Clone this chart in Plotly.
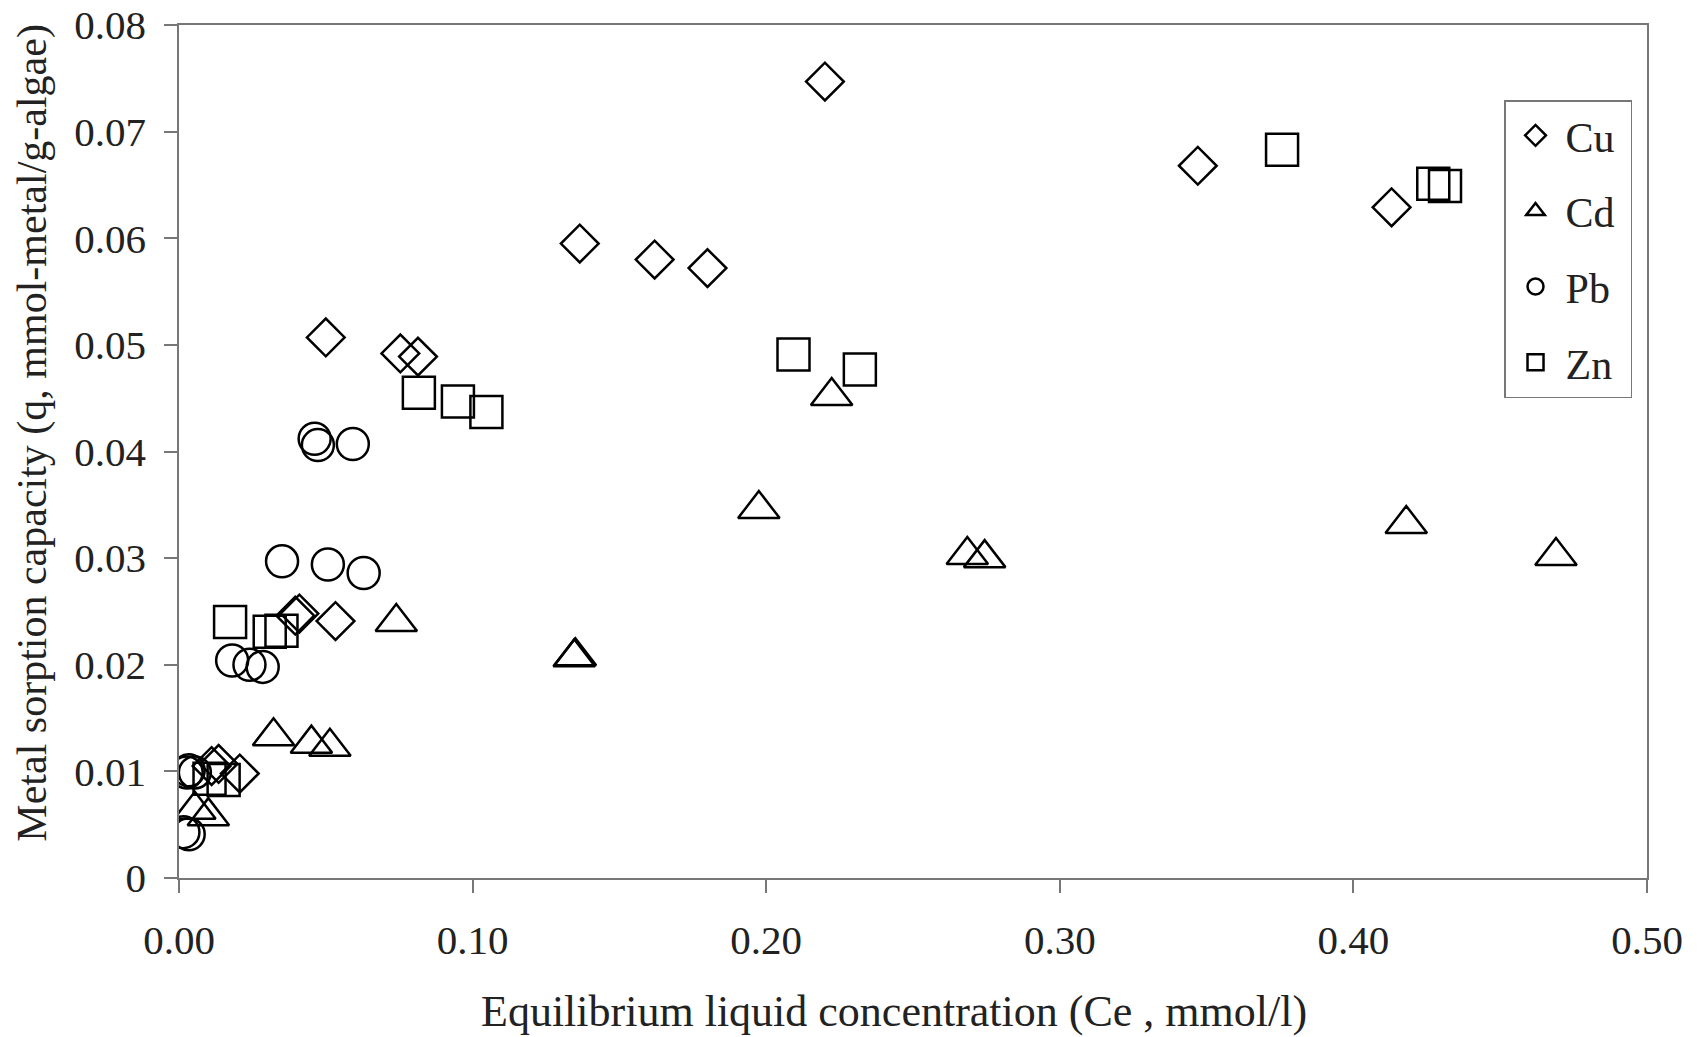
import plotly.graph_objects as go

# Equilibrium liquid concentration (Ce, mmol/l) and sorption capacity (q)
cu_x = [0.220, 0.347, 0.413, 0.1365, 0.162, 0.180, 0.050, 0.0754, 0.0814,
        0.0396, 0.0410, 0.0533, 0.0111, 0.0135, 0.0207]
cu_y = [0.0747, 0.0668, 0.0629, 0.0595, 0.0580, 0.0572, 0.0507, 0.0492, 0.0489,
        0.0246, 0.0248, 0.0241, 0.0105, 0.0107, 0.0098]

cd_x = [0.2223, 0.1975, 0.418, 0.469, 0.2685, 0.2744, 0.1346, 0.1350, 0.074,
        0.0322, 0.0451, 0.0514, 0.0054, 0.0100]
cd_y = [0.0452, 0.0346, 0.0332, 0.0302, 0.0303, 0.0300, 0.0207, 0.0208, 0.0240,
        0.0133, 0.0126, 0.0123, 0.0064, 0.0058]

pb_x = [0.0462, 0.0473, 0.0592, 0.0351, 0.0507, 0.0629, 0.0181, 0.0240, 0.0285,
        0.0026, 0.0033, 0.0054, 0.0015, 0.0033]
pb_y = [0.0412, 0.0406, 0.0407, 0.0297, 0.0294, 0.0286, 0.0204, 0.0200, 0.0198,
        0.0099, 0.0101, 0.0099, 0.0043, 0.0041]

zn_x = [0.3757, 0.4272, 0.4312, 0.2093, 0.2319, 0.0817, 0.0950, 0.1047, 0.0174,
        0.0309, 0.0349, 0.0104, 0.0152]
zn_y = [0.0683, 0.0651, 0.0649, 0.0491, 0.0477, 0.0455, 0.0447, 0.0437, 0.0240,
        0.0231, 0.0232, 0.0093, 0.0092]

x_ticks = [0.0, 0.1, 0.2, 0.3, 0.4, 0.5]
x_tick_labels = ["0.00", "0.10", "0.20", "0.30", "0.40", "0.50"]
y_ticks = [0, 0.01, 0.02, 0.03, 0.04, 0.05, 0.06, 0.07, 0.08]
y_tick_labels = ["0", "0.01", "0.02", "0.03", "0.04", "0.05", "0.06", "0.07", "0.08"]

x_title = "Equilibrium liquid concentration (Ce , mmol/l)"
y_title = "Metal sorption capacity (q, mmol-metal/g-algae)"

FONT = "Liberation Serif, Times New Roman, serif"
TXT = "#222222"

series = [
    ("Cu", cu_x, cu_y, "diamond-open", 29),
    ("Cd", cd_x, cd_y, "triangle-up-open", 36),
    ("Pb", pb_x, pb_y, "circle-open", 32),
    ("Zn", zn_x, zn_y, "square-open", 32),
]

fig = go.Figure()
for i, (name, xs, ys, sym, sz) in enumerate(series):
    fig.add_trace(go.Scatter(
        x=xs, y=ys, mode="markers", name=name + "\u00a0", legendgroup=name,
        marker=dict(symbol=sym, size=sz, color="black",
                    line=dict(color="#111111", width=2.5)),
    ))

axis_common = dict(
    showline=True, linecolor="#777777", linewidth=1.5, mirror=True,
    showgrid=False, zeroline=False, ticks="outside", ticklen=13,
    tickcolor="#777777", tickwidth=1.5, ticklabeloverflow="allow",
    automargin=False,
    tickfont=dict(family=FONT, size=41, color=TXT),
)

fig.update_layout(
    width=1705, height=1037,
    margin=dict(l=179, r=58, t=25, b=159),
    paper_bgcolor="white", plot_bgcolor="white",
    font=dict(family=FONT, color=TXT),
    xaxis=dict(range=[0, 0.5], tickvals=x_ticks, ticktext=x_tick_labels,
               ticklabelstandoff=12, **axis_common),
    yaxis=dict(range=[0, 0.08], tickvals=y_ticks, ticktext=y_tick_labels,
               ticklabelstandoff=10, **axis_common),
    legend=dict(x=0.9026, y=0.912, xanchor="left", yanchor="top",
                bordercolor="#777777", borderwidth=1.5, bgcolor="white",
                font=dict(family=FONT, size=42, color=TXT),
                tracegroupgap=18, itemwidth=50),
    showlegend=True,
    annotations=[
        dict(text=x_title, xref="paper", yref="paper", x=0.487, y=-0.156,
             xanchor="center", yanchor="middle", showarrow=False,
             font=dict(family=FONT, size=44, color=TXT)),
        dict(text=y_title, xref="paper", yref="paper", x=-0.0995, y=0.522,
             xanchor="center", yanchor="middle", showarrow=False, textangle=-90,
             font=dict(family=FONT, size=42, color=TXT)),
    ],
)

fig.write_html("out.html")
